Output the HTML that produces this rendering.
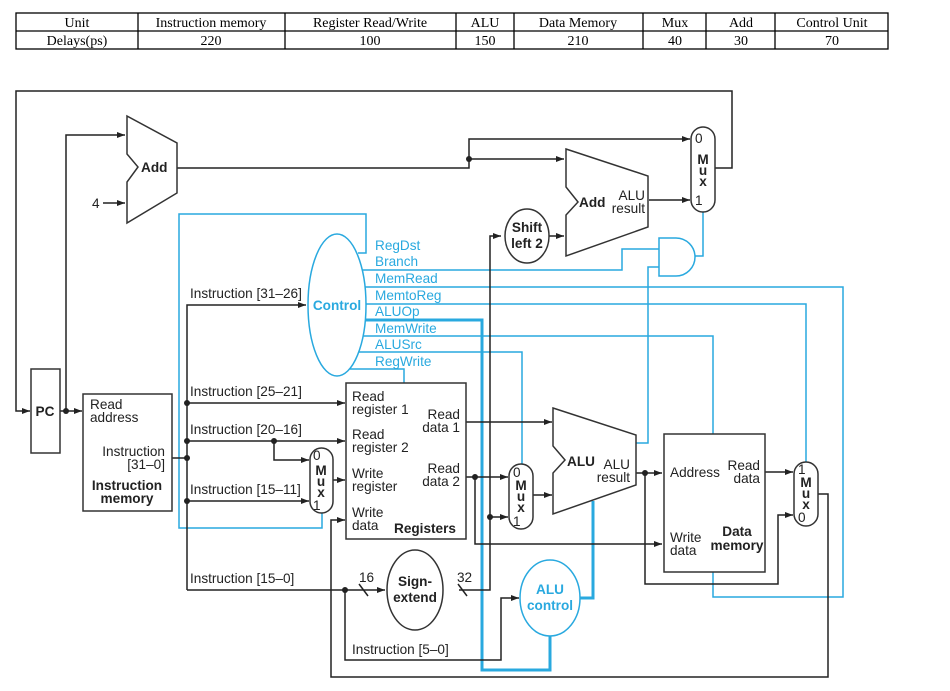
<!DOCTYPE html>
<html><head><meta charset="utf-8"><style>
html,body{margin:0;padding:0;background:#fff;}
svg{display:block;}
text{font-family:"Liberation Sans",Arial,sans-serif;font-size:13.6px;fill:#222;}
.b{font-weight:bold;}
.bl{fill:#29a9df;}
.t{font-family:"Liberation Serif",serif;font-size:14px;fill:#000;}
</style></head><body>
<svg width="950" height="691" viewBox="0 0 950 691" xmlns="http://www.w3.org/2000/svg">
<defs>
<marker id="a" markerWidth="8" markerHeight="6" refX="8" refY="3" orient="auto" markerUnits="userSpaceOnUse"><path d="M0,0 L8,3 L0,6 z" fill="#222"/></marker>
</defs>
<g fill="none" stroke="#000" stroke-width="1.3">
<rect x="16" y="13" width="872" height="36"/>
<line x1="16" y1="31" x2="888" y2="31"/>
<line x1="138" y1="13" x2="138" y2="49"/><line x1="285" y1="13" x2="285" y2="49"/>
<line x1="456" y1="13" x2="456" y2="49"/><line x1="514" y1="13" x2="514" y2="49"/>
<line x1="643" y1="13" x2="643" y2="49"/><line x1="706" y1="13" x2="706" y2="49"/>
<line x1="775" y1="13" x2="775" y2="49"/>
</g>
<g text-anchor="middle">
<text class="t" x="77" y="27">Unit</text><text class="t" x="211" y="27">Instruction memory</text><text class="t" x="370" y="27">Register Read/Write</text><text class="t" x="485" y="27">ALU</text><text class="t" x="578" y="27">Data Memory</text><text class="t" x="675" y="27">Mux</text><text class="t" x="741" y="27">Add</text><text class="t" x="832" y="27">Control Unit</text>
<text class="t" x="77" y="45">Delays(ps)</text><text class="t" x="211" y="45">220</text><text class="t" x="370" y="45">100</text><text class="t" x="485" y="45">150</text><text class="t" x="578" y="45">210</text><text class="t" x="675" y="45">40</text><text class="t" x="741" y="45">30</text><text class="t" x="832" y="45">70</text>
</g>

<g fill="none" stroke="#29a9df" stroke-width="1.5">
<polyline points="358,253 366,253 366,214 179,214 179,528 322,528 322,513"/>
<polyline points="360,270 622,270 622,249 659,249"/>
<polyline points="636,443 648,443 648,267 659,267"/>
<polyline points="695,256 703,256 703,212"/>
<polyline points="363,287 843,287 843,597 713,597 713,572"/>
<polyline points="365,304 806,304 806,462"/>
<polyline points="362,336 713,336 713,434"/>
<polyline points="358,352 522,352 522,465"/>
<polyline points="350,369 404,369 404,383"/>
</g>
<g fill="none" stroke="#29a9df" stroke-width="3">
<polyline points="364,320 482,320 482,670 550,670 550,636"/>
<polyline points="580,598 593,598 593,501"/>
</g>
<path d="M659,238 L676,238 A19,19 0 0 1 676,276 L659,276 Z" fill="#fff" stroke="#29a9df" stroke-width="1.5"/>
<ellipse cx="337" cy="305" rx="29" ry="71" fill="#fff" stroke="#29a9df" stroke-width="1.5"/>
<text class="b bl" x="337" y="310" text-anchor="middle">Control</text>
<ellipse cx="550" cy="598" rx="30" ry="38" fill="#fff" stroke="#29a9df" stroke-width="1.5"/>
<text class="b bl" x="550" y="594" text-anchor="middle">ALU</text>
<text class="b bl" x="550" y="610" text-anchor="middle">control</text>
<g>
<text class="bl" x="375" y="250">RegDst</text><text class="bl" x="375" y="266">Branch</text><text class="bl" x="375" y="283">MemRead</text><text class="bl" x="375" y="300">MemtoReg</text><text class="bl" x="375" y="316">ALUOp</text><text class="bl" x="375" y="333">MemWrite</text><text class="bl" x="375" y="349">ALUSrc</text><text class="bl" x="375" y="366">RegWrite</text>
<text class="bl" x="631" y="447" text-anchor="end">Zero</text>
</g>

<g fill="none" stroke="#222" stroke-width="1.5">
<polyline points="715,168 732,168 732,91 16,91 16,411 30,411" marker-end="url(#a)"/>
<polyline points="60,411 82,411" marker-end="url(#a)"/>
<polyline points="66,411 66,135 125,135" marker-end="url(#a)"/>
<polyline points="103,203 125,203" marker-end="url(#a)"/>
<polyline points="177,168 469,168 469,139 690,139" marker-end="url(#a)"/>
<polyline points="469,159 564,159" marker-end="url(#a)"/>
<polyline points="649,200 690,200" marker-end="url(#a)"/>
<polyline points="549,236 564,236" marker-end="url(#a)"/>
<polyline points="459,590 490,590 490,236 501,236" marker-end="url(#a)"/>
<polyline points="490,517 508,517" marker-end="url(#a)"/>
<polyline points="172,458 187,458"/>
<polyline points="187,590 187,305 306,305" marker-end="url(#a)"/>
<polyline points="187,403 345,403" marker-end="url(#a)"/>
<polyline points="187,441 345,441" marker-end="url(#a)"/>
<polyline points="274,441 274,460 309,460" marker-end="url(#a)"/>
<polyline points="187,501 309,501" marker-end="url(#a)"/>
<polyline points="333,480 345,480" marker-end="url(#a)"/>
<polyline points="187,590 385,590" marker-end="url(#a)"/>
<polyline points="345,590 345,660 501,660 501,598 519,598" marker-end="url(#a)"/>
<polyline points="818,494 828,494 828,677 331,677 331,520 345,520" marker-end="url(#a)"/>
<polyline points="466,422 552,422" marker-end="url(#a)"/>
<polyline points="466,477 508,477" marker-end="url(#a)"/>
<polyline points="475,477 475,544 662,544" marker-end="url(#a)"/>
<polyline points="533,495 552,495" marker-end="url(#a)"/>
<polyline points="636,473 662,473" marker-end="url(#a)"/>
<polyline points="645,473 645,584 778,584 778,515 793,515" marker-end="url(#a)"/>
<polyline points="765,472 793,472" marker-end="url(#a)"/>
<line x1="359" y1="584" x2="368" y2="596"/><line x1="458" y1="584" x2="467" y2="596"/>
</g>
<g fill="#222">
<circle cx="66" cy="411" r="3"/><circle cx="469" cy="159" r="3"/><circle cx="187" cy="403" r="3"/><circle cx="187" cy="441" r="3"/><circle cx="187" cy="458" r="3"/><circle cx="187" cy="501" r="3"/><circle cx="274" cy="441" r="3"/><circle cx="345" cy="590" r="3"/><circle cx="475" cy="477" r="3"/><circle cx="490" cy="517" r="3"/><circle cx="645" cy="473" r="3"/>
</g>

<g fill="#fff" stroke="#333" stroke-width="1.5">
<rect x="31" y="369" width="29" height="84"/>
<rect x="83" y="394" width="89" height="117"/>
<rect x="346" y="383" width="120" height="156"/>
<rect x="664" y="434" width="101" height="138"/>
<polygon points="127,116 177,143 177,193 127,223 127,182 138,167 127,154"/>
<polygon points="566,149 648,176 648,227 566,256 566,215 578,202 566,187"/>
<polygon points="553,408 636,435 636,485 553,514 553,473 565,460 553,446"/>
<rect x="691" y="127" width="24" height="85" rx="12"/>
<rect x="310" y="448" width="23" height="65" rx="11.5"/>
<rect x="509" y="464" width="24" height="65" rx="12"/>
<rect x="794" y="462" width="24" height="64" rx="12"/>
<ellipse cx="527" cy="236" rx="22" ry="27"/>
<ellipse cx="415" cy="590" rx="28" ry="40"/>
</g>
<g>
<text class="b" x="45" y="416" text-anchor="middle">PC</text>
<text x="90" y="409">Read</text><text x="90" y="422">address</text>
<text x="165" y="456" text-anchor="end">Instruction</text><text x="165" y="469" text-anchor="end">[31–0]</text>
<text class="b" x="127" y="490" text-anchor="middle">Instruction</text><text class="b" x="127" y="503" text-anchor="middle">memory</text>
<text class="b" x="141" y="172">Add</text>
<text x="92" y="208">4</text>
<text class="b" x="579" y="207">Add</text>
<text x="645" y="200" text-anchor="end">ALU</text><text x="645" y="213" text-anchor="end">result</text>
<text x="695" y="143">0</text><text x="695" y="205">1</text>
<text class="b" x="703" y="164" text-anchor="middle">M</text><text class="b" x="703" y="175" text-anchor="middle">u</text><text class="b" x="703" y="186" text-anchor="middle">x</text>
<text class="b" x="527" y="232" text-anchor="middle">Shift</text><text class="b" x="527" y="248" text-anchor="middle">left 2</text>
<text x="190" y="298">Instruction [31–26]</text>
<text x="190" y="396">Instruction [25–21]</text>
<text x="190" y="434">Instruction [20–16]</text>
<text x="190" y="494">Instruction [15–11]</text>
<text x="190" y="583">Instruction [15–0]</text>
<text x="352" y="654">Instruction [5–0]</text>
<text x="313" y="460">0</text><text x="313" y="510">1</text>
<text class="b" x="321" y="475" text-anchor="middle">M</text><text class="b" x="321" y="486" text-anchor="middle">u</text><text class="b" x="321" y="497" text-anchor="middle">x</text>
<text x="352" y="401">Read</text><text x="352" y="414">register 1</text>
<text x="352" y="439">Read</text><text x="352" y="452">register 2</text>
<text x="352" y="478">Write</text><text x="352" y="491">register</text>
<text x="352" y="517">Write</text><text x="352" y="530">data</text>
<text class="b" x="394" y="533">Registers</text>
<text x="460" y="419" text-anchor="end">Read</text><text x="460" y="432" text-anchor="end">data 1</text>
<text x="460" y="473" text-anchor="end">Read</text><text x="460" y="486" text-anchor="end">data 2</text>
<text x="359" y="582">16</text><text x="457" y="582">32</text>
<text class="b" x="415" y="586" text-anchor="middle">Sign-</text><text class="b" x="415" y="602" text-anchor="middle">extend</text>
<text x="513" y="477">0</text><text x="513" y="526">1</text>
<text class="b" x="521" y="490" text-anchor="middle">M</text><text class="b" x="521" y="501" text-anchor="middle">u</text><text class="b" x="521" y="512" text-anchor="middle">x</text>
<text class="b" x="567" y="466">ALU</text>
<text x="630" y="469" text-anchor="end">ALU</text><text x="630" y="482" text-anchor="end">result</text>
<text x="670" y="477">Address</text>
<text x="760" y="470" text-anchor="end">Read</text><text x="760" y="483" text-anchor="end">data</text>
<text x="670" y="542">Write</text><text x="670" y="555">data</text>
<text class="b" x="737" y="536" text-anchor="middle">Data</text><text class="b" x="737" y="550" text-anchor="middle">memory</text>
<text x="798" y="474">1</text><text x="798" y="522">0</text>
<text class="b" x="806" y="487" text-anchor="middle">M</text><text class="b" x="806" y="498" text-anchor="middle">u</text><text class="b" x="806" y="509" text-anchor="middle">x</text>
</g>
</svg>
</body></html>
